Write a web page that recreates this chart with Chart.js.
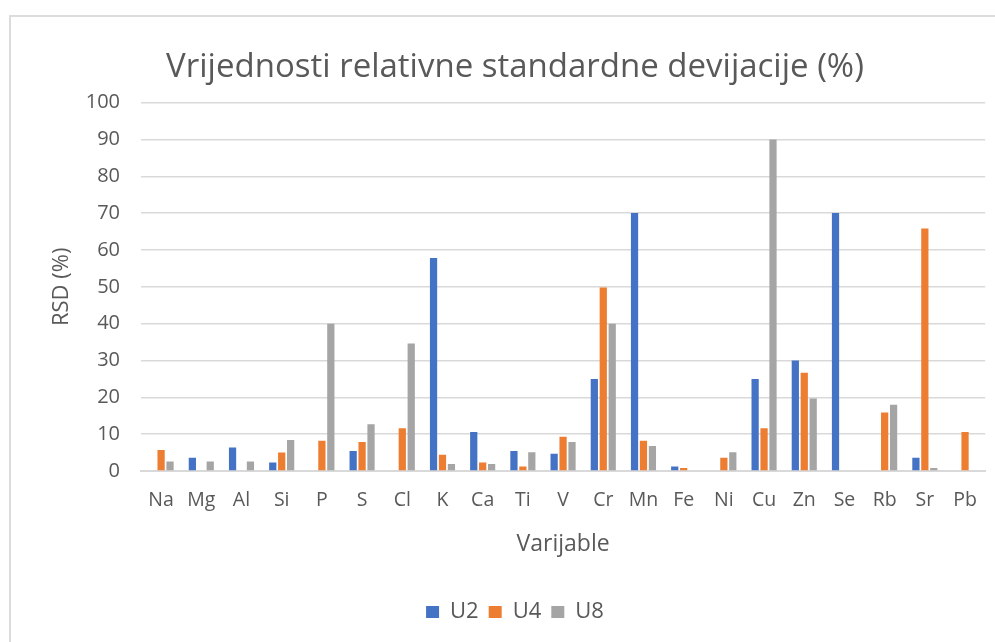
<!DOCTYPE html>
<html>
<head>
<meta charset="utf-8">
<script src="https://cdn.jsdelivr.net/npm/chart.js@4/dist/chart.umd.min.js"></script>
<style>
  html, body { margin: 0; padding: 0; background: #ffffff; overflow: hidden; }
  #frame { position: absolute; left: 9px; top: 15px; width: 1000px; height: 700px; border: 2px solid #dcdcdc; box-sizing: border-box; }
  #c { position: absolute; left: 0; top: 0; }
</style>
</head>
<body>
<div id="frame"></div>
<canvas id="c" width="995" height="642"></canvas>
<script>
const categories = ["Na","Mg","Al","Si","P","S","Cl","K","Ca","Ti","V","Cr","Mn","Fe","Ni","Cu","Zn","Se","Rb","Sr","Pb"];
const seriesNames = ["U2","U4","U8"];
const u2 = [null, 3.6, 6.4, 2.3, null, 5.4, null, 57.8, 10.6, 5.4, 4.7, 25, 70, 1.2, null, 25, 30, 70, null, 3.6, null];
const u4 = [5.7, null, null, 5.0, 8.2, 7.9, 11.6, 4.4, 2.3, 1.2, 9.3, 49.8, 8.2, 0.8, 3.6, 11.6, 26.7, null, 15.9, 65.8, 10.6];
const u8 = [2.6, 2.6, 2.6, 8.4, 40, 12.7, 34.6, 1.9, 1.9, 5.1, 7.9, 40, 6.8, null, 5.1, 90, 19.7, null, 18, 0.8, null];
const yTicks = [0,10,20,30,40,50,60,70,80,90,100];

const colors = ["#4472C4", "#ED7D31", "#A5A5A5"];
const textColor = "#595959";
const fontFamily = "'Open Sans', sans-serif";

new Chart(document.getElementById('c'), {
  type: 'bar',
  data: {
    labels: categories,
    datasets: [u2, u4, u8].map((d, i) => ({
      label: seriesNames[i],
      data: d,
      backgroundColor: colors[i],
      borderWidth: 0,
      categoryPercentage: 0.667,
      barPercentage: 0.81
    }))
  },
  options: {
    responsive: false,
    devicePixelRatio: 1,
    animation: false,
    layout: { padding: { left: 40, right: 5, top: 0, bottom: 9 } },
    plugins: {
      title: {
        display: true,
        text: 'Vrijednosti relativne standardne devijacije (%)',
        color: textColor,
        font: { family: fontFamily, size: 33, weight: 'normal' },
        padding: { top: 48, bottom: 15 }
      },
      legend: {
        display: true,
        position: 'bottom',
        labels: {
          color: textColor,
          font: { family: fontFamily, size: 22 },
          boxWidth: 13,
          boxHeight: 12,
          padding: 10
        }
      },
      tooltip: { enabled: false }
    },
    scales: {
      x: {
        grid: { display: false, drawTicks: false },
        border: { display: true, color: '#d9d9d9', width: 2 },
        ticks: { color: textColor, font: { family: fontFamily, size: 19.5 }, padding: 18, maxRotation: 0, autoSkip: false },
        title: { display: true, text: 'Varijable', color: textColor, font: { family: fontFamily, size: 23 }, padding: { top: 0, bottom: 33 } }
      },
      y: {
        min: 0,
        max: 100,
        afterBuildTicks: (scale) => { scale.ticks = yTicks.map(v => ({ value: v })); },
        afterFit: (scale) => { scale.width = 101; },
        grid: { color: '#d9d9d9', lineWidth: 1.5, drawTicks: false },
        border: { display: false },
        ticks: { color: textColor, font: { family: fontFamily, size: 20 }, padding: 21 },
        title: { display: true, text: 'RSD (%)', color: textColor, font: { family: fontFamily, size: 22 }, padding: { top: 9, bottom: 0 } }
      }
    }
  }
});
</script>
</body>
</html>
